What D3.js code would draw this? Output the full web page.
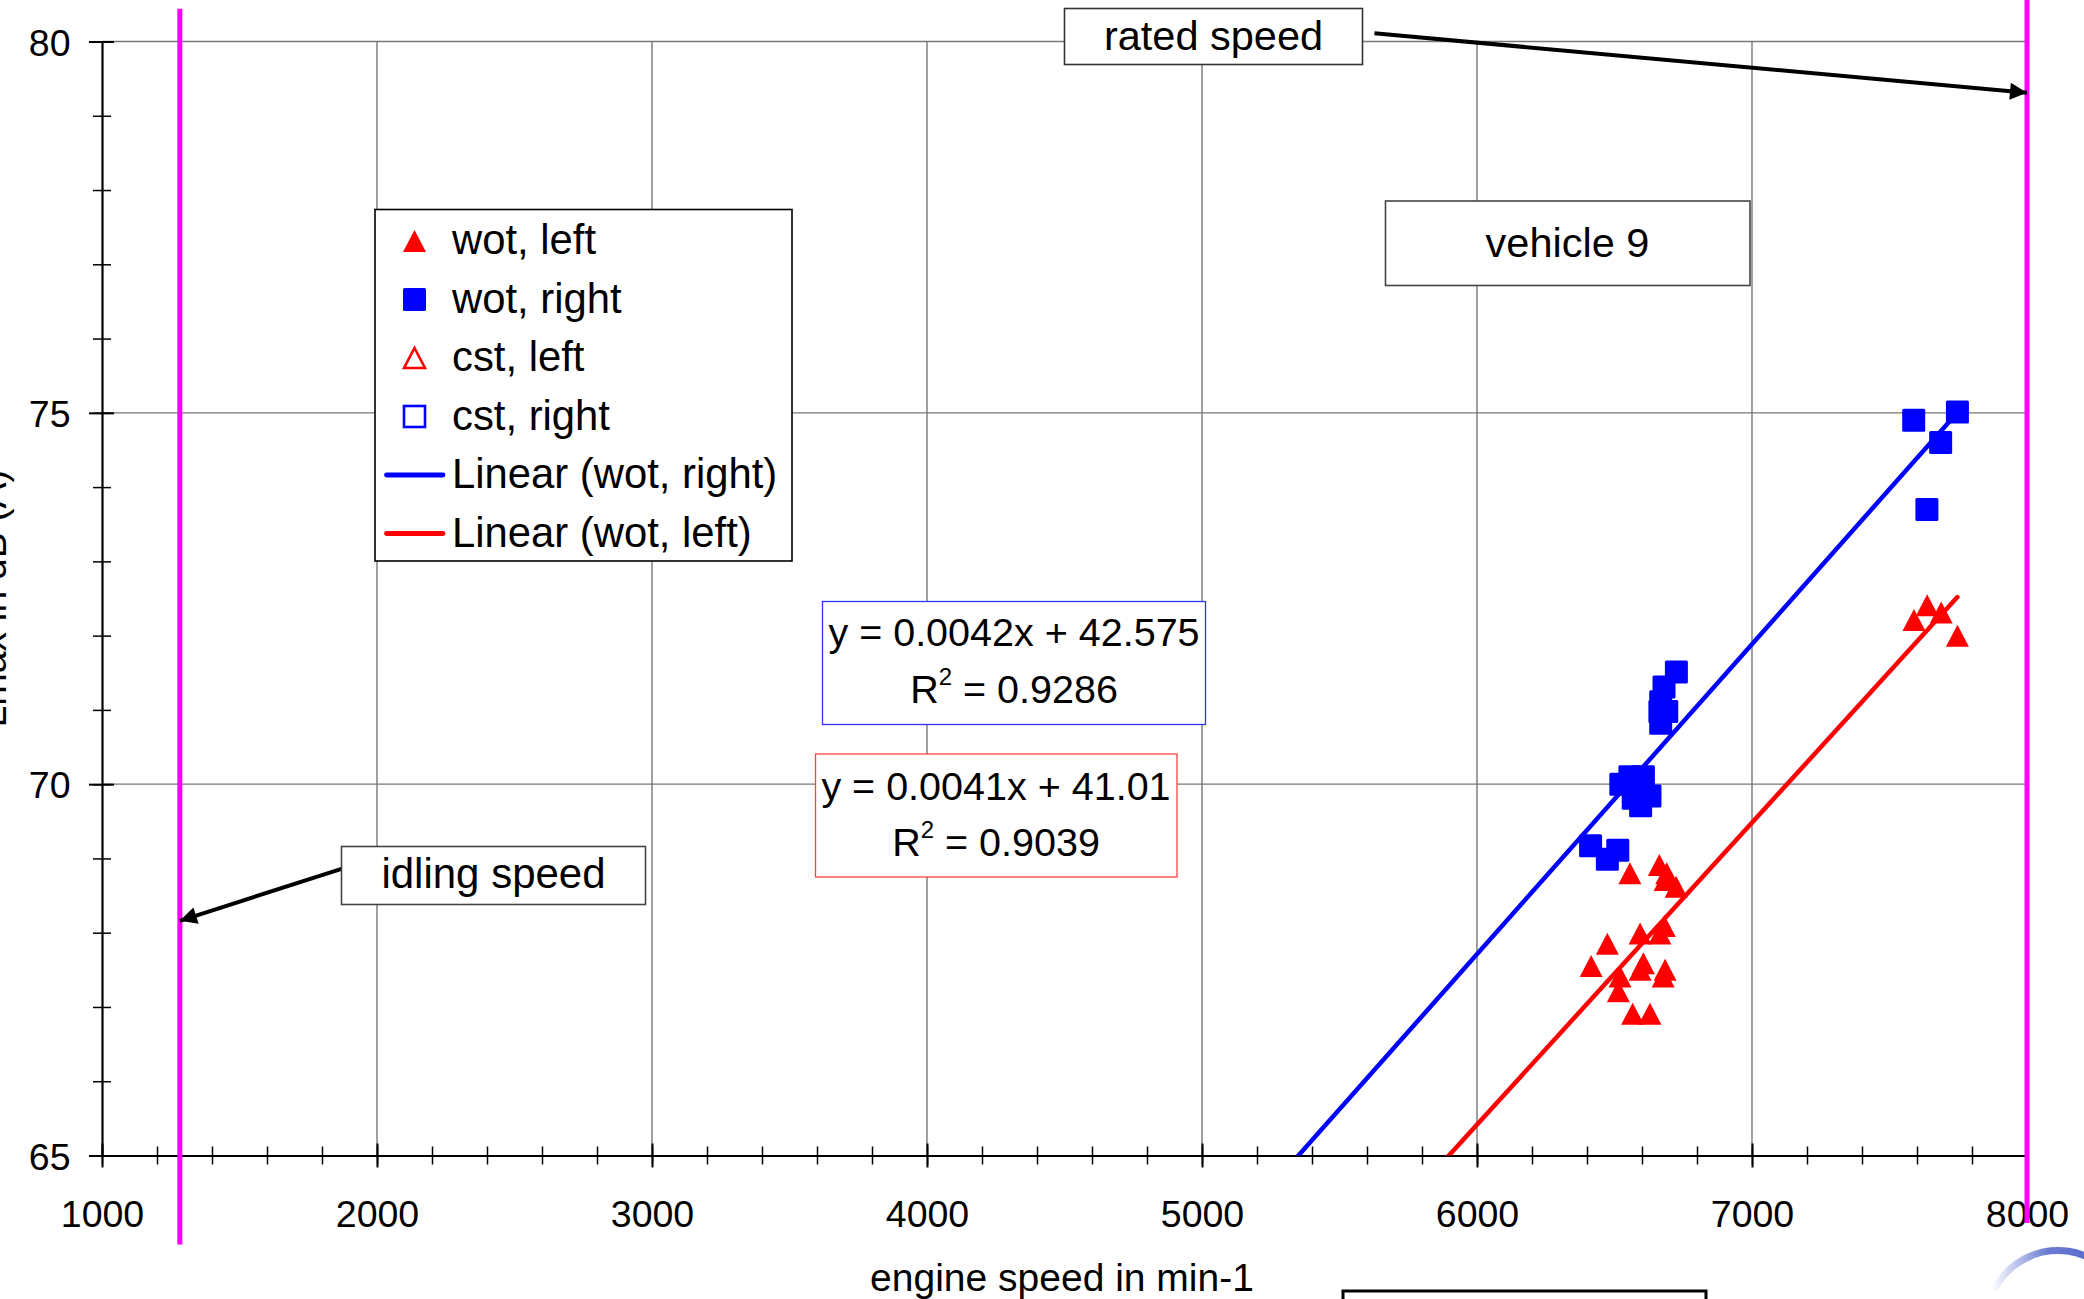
<!DOCTYPE html>
<html>
<head>
<meta charset="utf-8">
<script src="https://cdn.jsdelivr.net/npm/d3@7"></script>
<style>
  html, body { margin: 0; padding: 0; background: #fff; }
  svg { display: block; font-family: "Liberation Sans", Arial, sans-serif; }
</style>
</head>
<body>
<div id="chart"></div>
<script>
// engine speed (min-1), level (dB)
const wotRight = [
  [7588, 74.90], [7747, 75.01], [7686, 74.60], [7636, 73.70],
  [6725, 71.51], [6680, 71.31], [6668, 71.11], [6690, 70.98], [6665, 70.98], [6668, 70.82],
  [6523, 70.00], [6556, 70.10], [6605, 70.10], [6629, 69.84], [6595, 69.71], [6568, 69.81],
  [6413, 69.17], [6474, 68.99], [6512, 69.11]
];
const wotLeft = [
  [7589, 72.21], [7637, 72.41], [7688, 72.31], [7747, 72.00],
  [6556, 68.80], [6663, 68.91], [6690, 68.80], [6684, 68.71], [6724, 68.62],
  [6593, 67.99], [6681, 68.09], [6665, 67.99], [6474, 67.85], [6415, 67.55],
  [6605, 67.59], [6593, 67.50], [6684, 67.50], [6677, 67.41], [6520, 67.41],
  [6514, 67.21], [6566, 66.91], [6629, 66.91]
];
const xTicks = [1000, 2000, 3000, 4000, 5000, 6000, 7000, 8000];
const yTicks = [65, 70, 75, 80];
const legendLabels = ["wot, left", "wot, right", "cst, left", "cst, right", "Linear (wot, right)", "Linear (wot, left)"];
const fitRightText = ["y = 0.0042x + 42.575", "0.9286"];
const fitLeftText = ["y = 0.0041x + 41.01", "0.9039"];
const idleSpeed = 1283;   // min-1
const ratedSpeed = 8000;  // min-1
const xTitle = "engine speed in min-1";
const yTitle = "Lmax in dB (A)";

const width = 2084, height = 1299;
const margin = {top: 41.5, right: 57, bottom: 143.5, left: 102};

const svg = d3.select("#chart").append("svg")
  .attr("width", width)
  .attr("height", height)
  .attr("viewBox", [0, 0, width, height]);

const x = d3.scaleLinear().domain([1000, 8000]).range([margin.left, width - margin.right]);
const y = d3.scaleLinear().domain([65, 80]).range([height - margin.bottom, margin.top]);

const defs = svg.append("defs");
defs.append("clipPath").attr("id", "plot")
  .append("rect")
    .attr("x", x(1000)).attr("y", y(80))
    .attr("width", x(8000) - x(1000)).attr("height", y(65) - y(80));
defs.append("marker")
    .attr("id", "arrow")
    .attr("viewBox", "0 -5 10 10")
    .attr("refX", 10).attr("refY", 0)
    .attr("markerUnits", "userSpaceOnUse")
    .attr("markerWidth", 22).attr("markerHeight", 17)
    .attr("orient", "auto")
  .append("path")
    .attr("d", "M0,-5L10,0L0,5Z")
    .attr("fill", "#000");
const grad = defs.append("linearGradient").attr("id", "logo")
  .attr("x1", "0%").attr("x2", "100%");
grad.append("stop").attr("offset", "0%").attr("stop-color", "#ffffff");
grad.append("stop").attr("offset", "45%").attr("stop-color", "#4f64cc");
grad.append("stop").attr("offset", "100%").attr("stop-color", "#3347b8");

// grid
svg.append("g")
    .attr("stroke", "#777")
    .attr("stroke-width", 1.4)
  .call(g => g.selectAll(".v")
    .data(xTicks.slice(1, -1))
    .join("line")
      .attr("x1", d => x(d)).attr("x2", d => x(d))
      .attr("y1", y(80)).attr("y2", y(65)))
  .call(g => g.selectAll(".h")
    .data(yTicks.slice(1))
    .join("line")
      .attr("y1", d => y(d)).attr("y2", d => y(d))
      .attr("x1", x(1000)).attr("x2", x(8000)));

// axes
const xAxisMinor = g => g
  .attr("transform", `translate(0,${y(65)})`)
  .call(d3.axisBottom(x).tickValues(d3.range(1000, 8001, 200)).tickFormat("").tickSizeOuter(0))
  .call(g => g.select(".domain").remove())
  .call(g => g.selectAll(".tick line").attr("y1", -9).attr("y2", 9).attr("stroke-width", 1.5));

const xAxis = g => g
  .attr("transform", `translate(0,${y(65)})`)
  .call(d3.axisBottom(x).tickValues(xTicks).tickFormat(d3.format("d")).tickSizeOuter(0))
  .call(g => g.select(".domain").attr("stroke-width", 2.2))
  .call(g => g.selectAll(".tick line").attr("y1", -12).attr("y2", 12).attr("stroke-width", 2))
  .call(g => g.selectAll(".tick text")
    .attr("y", 71.5).attr("dy", 0)
    .attr("font-size", 37.5).attr("fill", "#000")
    .attr("font-family", "Liberation Sans, Arial, sans-serif"));

const yAxisMinor = g => g
  .attr("transform", `translate(${x(1000)},0)`)
  .call(d3.axisLeft(y).tickValues(d3.range(65, 80.1, 1)).tickFormat("").tickSizeOuter(0))
  .call(g => g.select(".domain").remove())
  .call(g => g.selectAll(".tick line").attr("x1", 9).attr("x2", -9).attr("stroke-width", 1.5));

const yAxis = g => g
  .attr("transform", `translate(${x(1000)},0)`)
  .call(d3.axisLeft(y).tickValues(yTicks).tickSizeOuter(0))
  .call(g => g.select(".domain").attr("stroke-width", 2.2))
  .call(g => g.selectAll(".tick line").attr("x1", 12).attr("x2", -13).attr("stroke-width", 2))
  .call(g => g.selectAll(".tick text")
    .attr("x", -31.5).attr("dy", "0.36em")
    .attr("font-size", 37.5).attr("fill", "#000")
    .attr("font-family", "Liberation Sans, Arial, sans-serif"));

svg.append("g").call(xAxisMinor);
svg.append("g").call(yAxisMinor);
svg.append("g").call(xAxis);
svg.append("g").call(yAxis);

// axis titles
svg.append("text")
    .attr("x", 1062).attr("y", 1291)
    .attr("text-anchor", "middle")
    .attr("font-size", 39)
    .text(xTitle);
svg.append("text")
    .attr("transform", `translate(6,${(y(65) + y(80)) / 2}) rotate(-90)`)
    .attr("text-anchor", "middle")
    .attr("font-size", 39)
    .text(yTitle);

// markers
const tri = (w, h) => `M0,${-h / 2}L${w / 2},${h / 2}L${-w / 2},${h / 2}Z`;

svg.append("g")
  .selectAll("rect")
  .data(wotRight)
  .join("rect")
    .attr("x", d => x(d[0]) - 11.5)
    .attr("y", d => y(d[1]) - 11.5)
    .attr("width", 23).attr("height", 23)
    .attr("rx", 1.5)
    .attr("fill", "#0000ff");

svg.append("g")
  .selectAll("path")
  .data(wotLeft)
  .join("path")
    .attr("transform", d => `translate(${x(d[0])},${y(d[1])})`)
    .attr("d", tri(23, 22))
    .attr("fill", "#ff0000");

// linear trend lines (least squares on the data)
const fit = data => {
  const mx = d3.mean(data, d => d[0]), my = d3.mean(data, d => d[1]);
  const slope = d3.sum(data, d => (d[0] - mx) * (d[1] - my)) / d3.sum(data, d => (d[0] - mx) ** 2);
  return {slope, intercept: my - slope * mx, max: d3.max(data, d => d[0])};
};

const line = d3.line().x(d => x(d[0])).y(d => y(d[1]));
[[wotRight, "#0000ff"], [wotLeft, "#ff0000"]].forEach(([data, color]) => {
  const f = fit(data);
  const pts = [1000, f.max].map(v => [v, f.slope * v + f.intercept]);
  svg.append("path")
      .datum(pts)
      .attr("clip-path", "url(#plot)")
      .attr("fill", "none")
      .attr("stroke", color)
      .attr("stroke-width", 4.5)
      .attr("stroke-linecap", "round")
      .attr("d", line);
});

// idle and rated speed lines
svg.append("line")
    .attr("x1", x(idleSpeed)).attr("x2", x(idleSpeed))
    .attr("y1", y(80.44)).attr("y2", y(63.8))
    .attr("stroke", "#ff00ff").attr("stroke-width", 5);
svg.append("line")
    .attr("x1", x(ratedSpeed)).attr("x2", x(ratedSpeed))
    .attr("y1", 0).attr("y2", y(64.09))
    .attr("stroke", "#ff00ff").attr("stroke-width", 5);

// labelled boxes
const box = (bx, by, bw, bh, stroke, sw) => svg.append("rect")
  .attr("x", bx).attr("y", by).attr("width", bw).attr("height", bh)
  .attr("fill", "#fff").attr("stroke", stroke).attr("stroke-width", sw);

const label = (tx, ty, str, size) => svg.append("text")
  .attr("x", tx).attr("y", ty)
  .attr("text-anchor", "middle")
  .attr("font-size", size)
  .text(str);

// arrows
svg.append("line")
    .attr("x1", x(5627)).attr("y1", y(80.11))
    .attr("x2", x(ratedSpeed)).attr("y2", y(79.31))
    .attr("stroke", "#000").attr("stroke-width", 4)
    .attr("marker-end", "url(#arrow)");
svg.append("line")
    .attr("x1", x(1871)).attr("y1", y(68.86))
    .attr("x2", x(idleSpeed)).attr("y2", y(68.16))
    .attr("stroke", "#000").attr("stroke-width", 4)
    .attr("marker-end", "url(#arrow)");

box(1064.5, 8.5, 298, 56, "#333", 1.6);
label(1213.5, 50, "rated speed", 41.5);
box(1385.5, 201, 364.5, 84.5, "#444", 1.6);
label(1567.5, 257, "vehicle 9", 41.5);
box(341.5, 846.5, 304, 58, "#444", 1.6);
label(493.5, 888, "idling speed", 42);

// equation boxes
const eqBox = (bx, by, bw, bh, color, txt, cx, b1, b2) => {
  box(bx, by, bw, bh, color, 1.3);
  label(cx, b1, txt[0], 39.5);
  const t = svg.append("text")
    .attr("x", cx).attr("y", b2)
    .attr("text-anchor", "middle")
    .attr("font-size", 39.5);
  t.append("tspan").text("R");
  t.append("tspan").attr("font-size", 24).attr("dy", -18).text("2");
  t.append("tspan").attr("dy", 18).text(" = " + txt[1]);
};
eqBox(822.5, 601.5, 383, 123, "#3030ff", fitRightText, 1014, 646, 702.5);
eqBox(815.5, 754, 361.5, 123, "#ff4040", fitLeftText, 996, 799.5, 856);

// legend
const lg = svg.append("g");
lg.append("rect")
    .attr("x", 375).attr("y", 209.5).attr("width", 417).attr("height", 351.5)
    .attr("fill", "#fff").attr("stroke", "#000").attr("stroke-width", 1.6);

const legendStyle = [
  g => g.append("path").attr("d", tri(23, 22)).attr("fill", "#ff0000"),
  g => g.append("rect").attr("x", -11.5).attr("y", -11.5).attr("width", 23).attr("height", 23).attr("rx", 1.5).attr("fill", "#0000ff"),
  g => g.append("path").attr("d", tri(21, 20)).attr("fill", "#fff").attr("stroke", "#ff0000").attr("stroke-width", 2.6),
  g => g.append("rect").attr("x", -10.5).attr("y", -10.5).attr("width", 21).attr("height", 21).attr("fill", "#fff").attr("stroke", "#0000ff").attr("stroke-width", 2.6),
  g => g.append("line").attr("x1", -28).attr("x2", 28.5).attr("stroke", "#0000ff").attr("stroke-width", 4.8).attr("stroke-linecap", "round"),
  g => g.append("line").attr("x1", -28).attr("x2", 28.5).attr("stroke", "#ff0000").attr("stroke-width", 4.8).attr("stroke-linecap", "round")
];

legendLabels.forEach((name, i) => {
  const base = 254 + 58.5 * i;
  const g = lg.append("g").attr("transform", `translate(414.5,${base - 13})`);
  legendStyle[i](g);
  lg.append("text")
      .attr("x", 452).attr("y", base)
      .attr("font-size", 41.8)
      .text(name);
});

// cut-off box and logo at the bottom edge
svg.append("rect")
    .attr("x", 1343).attr("y", 1291).attr("width", 363).attr("height", 60)
    .attr("fill", "#fff").attr("stroke", "#000").attr("stroke-width", 3);
svg.append("path")
    .attr("transform", "translate(2058,1322)")
    .attr("d", d3.arc()({innerRadius: 68, outerRadius: 75, startAngle: -1.1, endAngle: 0.9}))
    .attr("fill", "url(#logo)")
    .attr("opacity", 0.85);
</script>
</body>
</html>
